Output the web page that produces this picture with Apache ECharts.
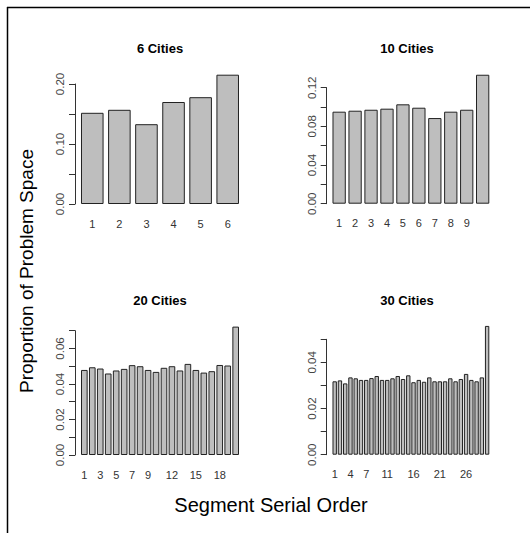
<!DOCTYPE html>
<html>
<head>
<meta charset="utf-8">
<script src="https://cdn.jsdelivr.net/npm/echarts@6/dist/echarts.min.js"></script>
<style>
html,body{margin:0;padding:0;background:#fff;}
#chart{width:530px;height:533px;}
</style>
</head>
<body>
<div id="chart"></div>
<script>
// ---- data ----
const cats6 = ['1','2','3','4','5','6'];
const values6 = [0.152, 0.157, 0.133, 0.170, 0.178, 0.2155];
const xShown6 = ['1','2','3','4','5','6'];
const yTicks6 = ['0.00','0.10','0.20'];

const cats10 = ['1','2','3','4','5','6','7','8','9','10'];
const values10 = [0.0952, 0.0962, 0.0972, 0.0983, 0.1028, 0.0993, 0.0886, 0.0952, 0.0972, 0.1334];
const xShown10 = ['1','2','3','4','5','6','7','8','9'];
const yTicks10 = ['0.00','0.04','0.08','0.12'];

const cats20 = ['1','2','3','4','5','6','7','8','9','10','11','12','13','14','15','16','17','18','19','20'];
const values20 = [0.0479,0.0494,0.0487,0.0459,0.0476,0.0485,0.0506,0.0500,0.0479,0.0468,
                  0.0491,0.0500,0.0476,0.0513,0.0479,0.0464,0.0472,0.0507,0.0504,0.0723];
const xShown20 = ['1','3','5','7','9','12','15','18'];
const yTicks20 = ['0.00','0.02','0.04','0.06'];

const cats30 = ['1','2','3','4','5','6','7','8','9','10','11','12','13','14','15',
                '16','17','18','19','20','21','22','23','24','25','26','27','28','29','30'];
const values30 = [0.0318,0.0322,0.0309,0.0335,0.0331,0.0324,0.0324,0.0332,0.0341,0.0324,
                  0.0324,0.0331,0.0341,0.0328,0.0344,0.0314,0.0324,0.0316,0.0335,0.0318,
                  0.0318,0.0318,0.0331,0.0318,0.0328,0.0350,0.0324,0.0318,0.0335,0.0558];
const xShown30 = ['1','4','7','11','16','21','26'];
const yTicks30 = ['0.00','0.02','0.04'];

const titles = ['6 Cities','10 Cities','20 Cities','30 Cities'];
const xName = 'Segment Serial Order';
const yName = 'Proportion of Problem Space';

// ---- layout (pixels) ----
const FONT = '"Liberation Sans", Arial, Helvetica, sans-serif';
const panels = [
  {cats: cats6,  vals: values6,  shown: xShown6,  ylab: yTicks6,  max: 0.20, step: 0.05,
   left: 78.74, width: 162.51, top: 84,    height: 120,   axisX: 75,    titleX: 160,   titleY: 48},
  {cats: cats10, vals: values10, shown: xShown10, ylab: yTicks10, max: 0.12, step: 0.02,
   left: 331.17, width: 159.46, top: 87.7, height: 116,   axisX: 326.7, titleX: 407,   titleY: 48},
  {cats: cats20, vals: values20, shown: xShown20, ylab: yTicks20, max: 0.07, step: 0.01,
   left: 80.34, width: 159.33, top: 330.7, height: 124.3, axisX: 75,    titleX: 160,   titleY: 300},
  {cats: cats30, vals: values30, shown: xShown30, ylab: yTicks30, max: 0.05, step: 0.01,
   left: 332.06, width: 157.68, top: 339.3, height: 115.4, axisX: 326.7, titleX: 407,  titleY: 300}
];

const grid = [], xAxis = [], yAxis = [], series = [];
const graphic = [];
panels.forEach((p, i) => {
  grid.push({left: p.left, top: p.top, width: p.width, height: p.height, containLabel: false});
  xAxis.push({
    type: 'category', gridIndex: i, data: p.cats,
    axisLine: {show: false}, axisTick: {show: false},
    axisLabel: {
      interval: 0, margin: 14, fontSize: 11, fontFamily: FONT, color: '#333',
      formatter: v => p.shown.indexOf(v) >= 0 ? v : ''
    }
  });
  yAxis.push({
    type: 'value', gridIndex: i, min: 0, max: p.max, interval: p.step,
    offset: p.left - p.axisX,
    axisLine: {show: true, lineStyle: {color: '#333', width: 1}},
    axisTick: {show: true, length: 6, lineStyle: {color: '#333'}},
    splitLine: {show: false},
    axisLabel: {
      rotate: 90, margin: 9, fontSize: 11.5, fontFamily: FONT, color: '#444',
      formatter: v => { const s = v.toFixed(2); return p.ylab.indexOf(s) >= 0 ? s : ''; }
    }
  });
  series.push({
    type: 'bar', xAxisIndex: i, yAxisIndex: i, data: p.vals,
    barCategoryGap: '16.667%', clip: false, animation: false,
    itemStyle: {color: '#bebebe', borderColor: '#222', borderWidth: 1}
  });
  graphic.push({
    type: 'text', x: p.titleX, y: p.titleY,
    style: {text: titles[i], fontSize: 13, fontWeight: 'bold', fontFamily: FONT,
            fill: '#000', align: 'center', verticalAlign: 'middle'}
  });
});

graphic.push({
  type: 'text', x: 271, y: 505,
  style: {text: xName, fontSize: 20, fontFamily: FONT, fill: '#000', align: 'center', verticalAlign: 'middle'}
});
graphic.push({
  type: 'text', x: 26, y: 271, rotation: Math.PI / 2,
  style: {text: yName, fontSize: 19, fontFamily: FONT, fill: '#000', align: 'center', verticalAlign: 'middle'}
});
graphic.push({type: 'line', shape: {x1: 7, y1: 7.5, x2: 530, y2: 7.5}, style: {stroke: '#000', lineWidth: 1.5}});
graphic.push({type: 'line', shape: {x1: 7.5, y1: 7, x2: 7.5, y2: 533}, style: {stroke: '#000', lineWidth: 1.5}});

const chart = echarts.init(document.getElementById('chart'), null, {renderer: 'svg', width: 530, height: 533});
chart.setOption({
  backgroundColor: '#fff',
  animation: false,
  grid, xAxis, yAxis, series, graphic
});
</script>
</body>
</html>
